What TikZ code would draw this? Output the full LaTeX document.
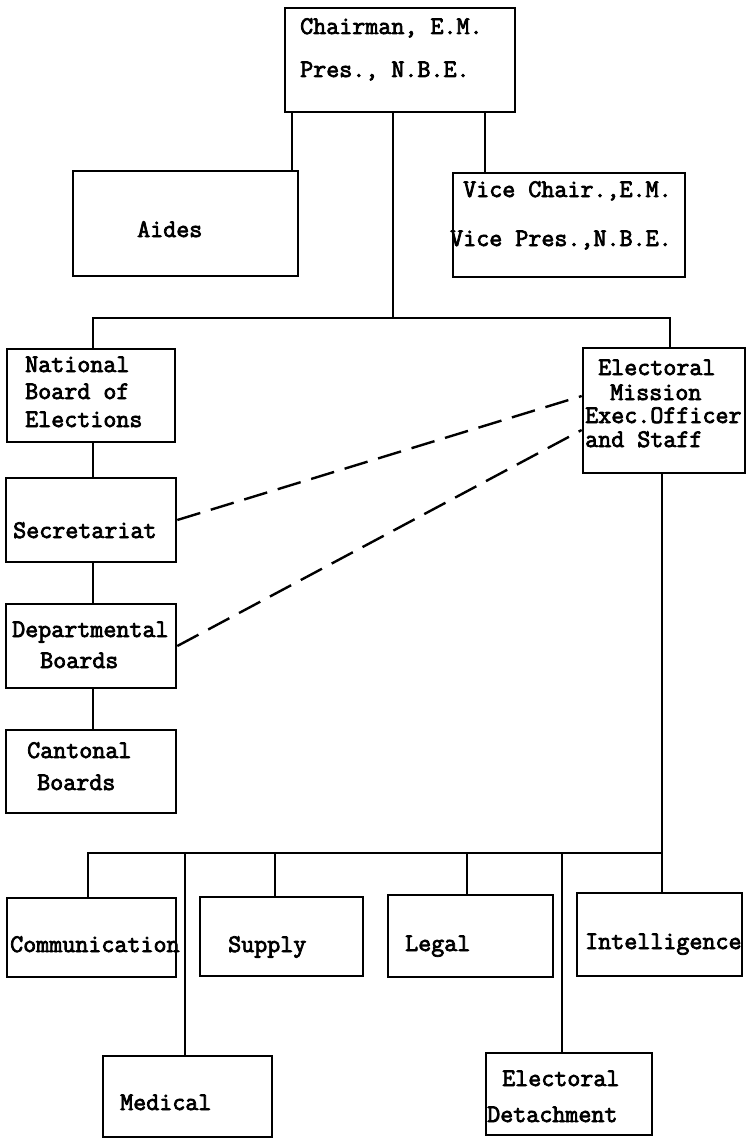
\documentclass[tikz,border=0pt]{standalone}
\usepackage{fontspec}
\newfontfamily\typew{Latin Modern Mono}[FakeBold=3]
\begin{document}
\begin{tikzpicture}[x=1pt,y=-1pt,
  box/.style={draw, line width=2.6pt, inner sep=0pt, rectangle},
  txt/.style={font=\typew\fontsize{25.3}{27}\selectfont, inner sep=0pt, anchor=base west},
  conn/.style={line width=2.4pt},
  dashconn/.style={line width=2.4pt, dash pattern=on 24pt off 11pt}]
\fill[white] (0,0) rectangle (753,1140);
\useasboundingbox (0,0) rectangle (753,1140);
% boxes
\node[box, minimum width=230pt, minimum height=104pt] (top) at (400,60) {};
\node[box, minimum width=225pt, minimum height=105pt] (aides) at (185.5,223.5) {};
\node[box, minimum width=232pt, minimum height=104pt] (vice) at (569,225) {};
\node[box, minimum width=168pt, minimum height=93pt] (nbe) at (91,395.5) {};
\node[box, minimum width=162pt, minimum height=125pt] (em) at (664,410.5) {};
\node[box, minimum width=170pt, minimum height=84pt] (sec) at (91,520) {};
\node[box, minimum width=170pt, minimum height=84pt] (dep) at (91,646) {};
\node[box, minimum width=170pt, minimum height=83pt] (can) at (91,771.5) {};
\node[box, minimum width=169pt, minimum height=79pt] (comm) at (91.5,937.5) {};
\node[box, minimum width=163pt, minimum height=79pt] (sup) at (281.5,936.5) {};
\node[box, minimum width=165pt, minimum height=82pt] (leg) at (470.5,936) {};
\node[box, minimum width=165pt, minimum height=83pt] (intel) at (659.5,934.5) {};
\node[box, minimum width=169pt, minimum height=81pt] (med) at (187.5,1096.5) {};
\node[box, minimum width=166pt, minimum height=82pt] (det) at (569,1094) {};
% texts
\node[txt] (top-a) at (300,34) {Chairman, E.M.};
\node[txt] (top-b) at (300,77) {Pres., N.B.E.};
\node[txt] (aides-t) at (137,237) {Aides};
\node[txt] (vice-a) at (463,197) {Vice Chair.,E.M.};
\node[txt] (vice-b) at (450,246) {Vice Pres.,N.B.E.};
\node[txt] (nbe-a) at (25,372) {National};
\node[txt] (nbe-b) at (25,399) {Board of};
\node[txt] (nbe-c) at (25,427) {Elections};
\node[txt] (em-a) at (598,375) {Electoral};
\node[txt] (em-b) at (610,400) {Mission};
\node[txt] (em-c) at (585,423) {Exec.Officer};
\node[txt] (em-d) at (585,447) {and Staff};
\node[txt] (sec-t) at (13,538) {Secretariat};
\node[txt] (dep-a) at (12,637) {Departmental};
\node[txt] (dep-b) at (40,668) {Boards};
\node[txt] (can-a) at (27,758) {Cantonal};
\node[txt] (can-b) at (37,790) {Boards};
\node[txt] (comm-t) at (10,952) {Communication};
\node[txt] (sup-t) at (228,952) {Supply};
\node[txt] (leg-t) at (405,951) {Legal};
\node[txt] (intel-t) at (585,949) {Intelligence};
\node[txt] (med-t) at (120,1110) {Medical};
\node[txt] (det-a) at (502,1086) {Electoral};
\node[txt] (det-b) at (487,1122) {Detachment};
% connector coordinates
\coordinate (xA) at (292,0);
\coordinate (xV) at (485,0);
\coordinate (busT) at (393,318);
\coordinate (busL) at (93,318);
\coordinate (busR) at (670,318);
\coordinate (xL) at (93,0);
\coordinate (bbR) at (662,853);
\coordinate (bbL) at (88,853);
\coordinate (dMed) at (185,853);
\coordinate (dSup) at (275,853);
\coordinate (dLeg) at (467,853);
\coordinate (dDet) at (562,853);
\coordinate (yA) at (0,396);
\coordinate (yB) at (0,430);
% connectors
\draw[conn] (top.south -| xA) -- (aides.north -| xA);
\draw[conn] (top.south -| xV) -- (vice.north -| xV);
\draw[conn] (top.south -| busT) -- (busT);
\draw[conn] (nbe.north -| busL) -- (busL) -- (busR) -- (em.north -| busR);
\draw[conn] (nbe.south -| xL) -- (sec.north -| xL);
\draw[conn] (sec.south -| xL) -- (dep.north -| xL);
\draw[conn] (dep.south -| xL) -- (can.north -| xL);
\draw[conn] (em.south -| bbR) -- (bbR) -- (bbL) -- (comm.north -| bbL);
\draw[conn] (bbR) -- (intel.north -| bbR);
\draw[conn] (dMed) -- (med.north -| dMed);
\draw[conn] (dSup) -- (sup.north -| dSup);
\draw[conn] (dLeg) -- (leg.north -| dLeg);
\draw[conn] (dDet) -- (det.north -| dDet);
\draw[dashconn] (sec.east) -- (em.west |- yA);
\draw[dashconn] (dep.east) -- (em.west |- yB);
\end{tikzpicture}
\end{document}
